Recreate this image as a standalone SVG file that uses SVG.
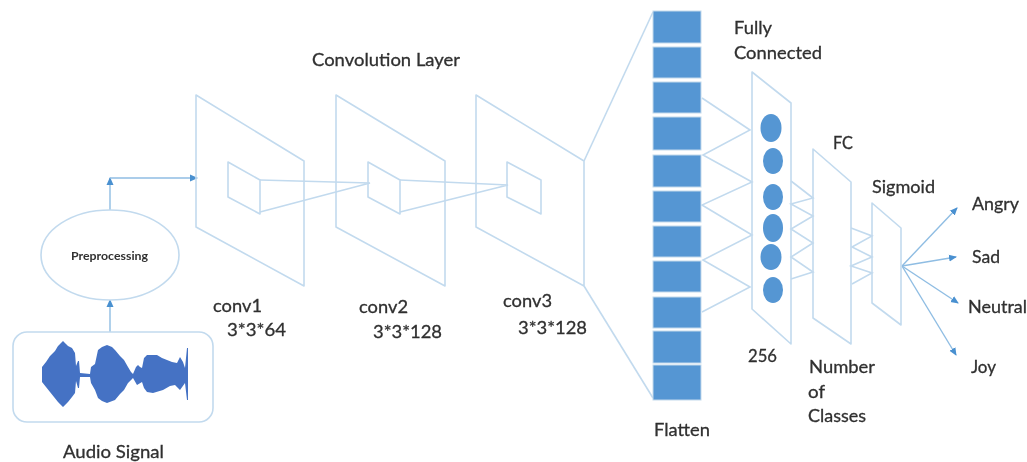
<svg xmlns="http://www.w3.org/2000/svg" width="1027" height="462" viewBox="0 0 1027 462">
<defs>
<marker id="arrow" markerUnits="userSpaceOnUse" markerWidth="8" markerHeight="8" refX="7" refY="4" orient="auto"><path d="M0,0.5 L8,4 L0,7.5 Z" fill="#4a90d0"/></marker>
<filter id="soft" x="0" y="0" width="100%" height="100%"><feGaussianBlur stdDeviation="0.55"/></filter>
</defs>
<style>
.sheet{fill:none;stroke:#c2daee;stroke-width:1.6;stroke-linejoin:round}
.link{fill:none;stroke:#c2daee;stroke-width:1.6}
.flow{fill:none;stroke:#8fbde3;stroke-width:1.4;marker-end:url(#arrow)}
.cell{fill:#5596d3;stroke:#c3d9ec;stroke-width:1}
.dot{fill:#5596d3}
.label{font-family:Lato,"Liberation Sans",sans-serif;font-size:18px;fill:#303030;stroke:#303030;stroke-width:0.3}
</style>
<g filter="url(#soft)">
<rect width="1027" height="462" fill="#ffffff"/>
<g id="connectors">
<path class="flow" d="M110,332 L110,300"/>
<path class="flow" d="M110,210 L110,178"/>
<path class="flow" d="M110,178 L197,178"/>
<path class="link" d="M260,180 L370,183 L260,212"/>
<path class="link" d="M400,180 L508,185 L400,212"/>
<path class="link" d="M584,161 L653,12"/>
<path class="link" d="M584,286 L653,398"/>
<path class="link" d="M702,98 L750,130 L703,155 L752,182 L702,205 L752,235 L703,260 L750,287 L702,312"/>
<path class="link" d="M791,181 L813,198 L791,204 L813,216 L791,229 L813,243 L791,257 L813,272 L791,279"/>
<path class="link" d="M851,228 L872,236 L852,247 L872,257 L851,266 L872,273 L852,284"/>
<path class="flow" d="M902,266 L957,208"/>
<path class="flow" d="M902,266 L956,257"/>
<path class="flow" d="M902,266 L958,303"/>
<path class="flow" d="M902,266 L956,355"/>
</g>
<g id="audio-signal">
<rect x="13" y="332" width="200" height="90" rx="14" fill="#ffffff" stroke="#c2daee" stroke-width="1.6"/>
<path fill="#4472c4" d="M42,367 L46,362 L50,356 L55,351 L58,346 L61,343 L63,341 L66,344 L68,346 L72,348 L75,353 L76,366 L78,361 L79,361 L80,373 L90,374 L91,367 L95,364 L98,350 L102,347 L107,345 L112,347 L115,350 L120,356 L124,360 L128,367 L131,372 L133,374 L136,367 L138,365 L140,367 L142,368 L144,358 L147,355 L157,355 L162,358 L167,360 L172,362 L177,363 L180,357 L183,362 L185,368 L187,348 L188,348 L188,400 L187,400 L185,383 L180,390 L175,385 L170,386 L163,390 L153,393 L147,392 L144,388 L142,382 L137,385 L133,378 L128,383 L124,390 L120,394 L115,400 L107,403 L102,401 L98,398 L95,390 L91,383 L90,377 L80,377 L79,388 L78,388 L76,381 L75,393 L72,397 L68,402 L63,407 L58,402 L54,397 L50,392 L46,387 L42,382 Z"/>
<text class="label" x="63" y="458" textLength="101" lengthAdjust="spacingAndGlyphs">Audio Signal</text>
</g>
<g id="preprocessing">
<ellipse cx="110" cy="255" rx="69" ry="45" fill="#ffffff" stroke="#c2daee" stroke-width="1.6"/>
<text class="label" x="71" y="260" textLength="77" lengthAdjust="spacingAndGlyphs" style="font-size:12px;font-weight:700;stroke:none">Preprocessing</text>
</g>
<text class="label" x="312" y="66" textLength="148" lengthAdjust="spacingAndGlyphs">Convolution Layer</text>
<g id="conv1">
<path class="sheet" d="M196,95 L304,161 L304,286 L196,227 Z"/>
<path class="sheet" d="M228,162 L260,180 L260,214 L228,197 Z"/>
<text class="label" x="213" y="312" textLength="49" lengthAdjust="spacingAndGlyphs">conv1</text>
<text class="label" x="227" y="336" textLength="59" lengthAdjust="spacingAndGlyphs">3*3*64</text>
</g>
<g id="conv2">
<path class="sheet" d="M336,95 L445,161 L445,286 L336,227 Z"/>
<path class="sheet" d="M368,162 L400,180 L400,214 L368,197 Z"/>
<text class="label" x="359" y="313" textLength="49" lengthAdjust="spacingAndGlyphs">conv2</text>
<text class="label" x="373" y="338" textLength="69" lengthAdjust="spacingAndGlyphs">3*3*128</text>
</g>
<g id="conv3">
<path class="sheet" d="M476,95 L584,161 L584,286 L476,227 Z"/>
<path class="sheet" d="M507,162 L541,180 L541,214 L507,197 Z"/>
<text class="label" x="503" y="307" textLength="49" lengthAdjust="spacingAndGlyphs">conv3</text>
<text class="label" x="518" y="334" textLength="69" lengthAdjust="spacingAndGlyphs">3*3*128</text>
</g>
<g id="flatten">
<rect class="cell" x="653" y="11" width="48" height="32"/>
<rect class="cell" x="653" y="47" width="48" height="31"/>
<rect class="cell" x="653" y="82" width="48" height="31"/>
<rect class="cell" x="653" y="117" width="48" height="33"/>
<rect class="cell" x="653" y="155" width="48" height="32"/>
<rect class="cell" x="653" y="191" width="48" height="31"/>
<rect class="cell" x="653" y="226" width="48" height="31"/>
<rect class="cell" x="653" y="261" width="48" height="31"/>
<rect class="cell" x="653" y="297" width="48" height="31"/>
<rect class="cell" x="653" y="331" width="48" height="32"/>
<rect class="cell" x="653" y="365" width="48" height="35"/>
<text class="label" x="654" y="436" textLength="56" lengthAdjust="spacingAndGlyphs">Flatten</text>
</g>
<g id="fully-connected">
<path class="sheet" d="M752,72 L791,103 L791,344 L752,309 Z"/>
<ellipse class="dot" cx="771" cy="128" rx="10.5" ry="14"/>
<ellipse class="dot" cx="773" cy="161" rx="10" ry="13"/>
<ellipse class="dot" cx="773" cy="197" rx="10" ry="13"/>
<ellipse class="dot" cx="773" cy="228" rx="10" ry="14"/>
<ellipse class="dot" cx="771" cy="257" rx="10.5" ry="13"/>
<ellipse class="dot" cx="773" cy="290" rx="10" ry="13"/>
<text class="label" x="734" y="34" textLength="38" lengthAdjust="spacingAndGlyphs">Fully</text>
<text class="label" x="734" y="59" textLength="88" lengthAdjust="spacingAndGlyphs">Connected</text>
<text class="label" x="748" y="362" textLength="29" lengthAdjust="spacingAndGlyphs">256</text>
</g>
<g id="fc">
<path class="sheet" d="M813,149 L851,182 L851,344 L813,318 Z"/>
<text class="label" x="833" y="149" textLength="20" lengthAdjust="spacingAndGlyphs">FC</text>
<text class="label" x="809" y="373" textLength="66" lengthAdjust="spacingAndGlyphs">Number</text>
<text class="label" x="808" y="398" textLength="17" lengthAdjust="spacingAndGlyphs">of</text>
<text class="label" x="808" y="422" textLength="58" lengthAdjust="spacingAndGlyphs">Classes</text>
</g>
<g id="sigmoid">
<path class="sheet" d="M872,203 L901,228 L901,325 L872,303 Z"/>
<text class="label" x="872" y="193" textLength="63" lengthAdjust="spacingAndGlyphs">Sigmoid</text>
</g>
<g id="outputs">
<text class="label" x="972" y="210" textLength="47" lengthAdjust="spacingAndGlyphs">Angry</text>
<text class="label" x="972" y="263" textLength="28" lengthAdjust="spacingAndGlyphs">Sad</text>
<text class="label" x="968" y="313" textLength="59" lengthAdjust="spacingAndGlyphs">Neutral</text>
<text class="label" x="971" y="373" textLength="25" lengthAdjust="spacingAndGlyphs">Joy</text>
</g>
</g>
</svg>
